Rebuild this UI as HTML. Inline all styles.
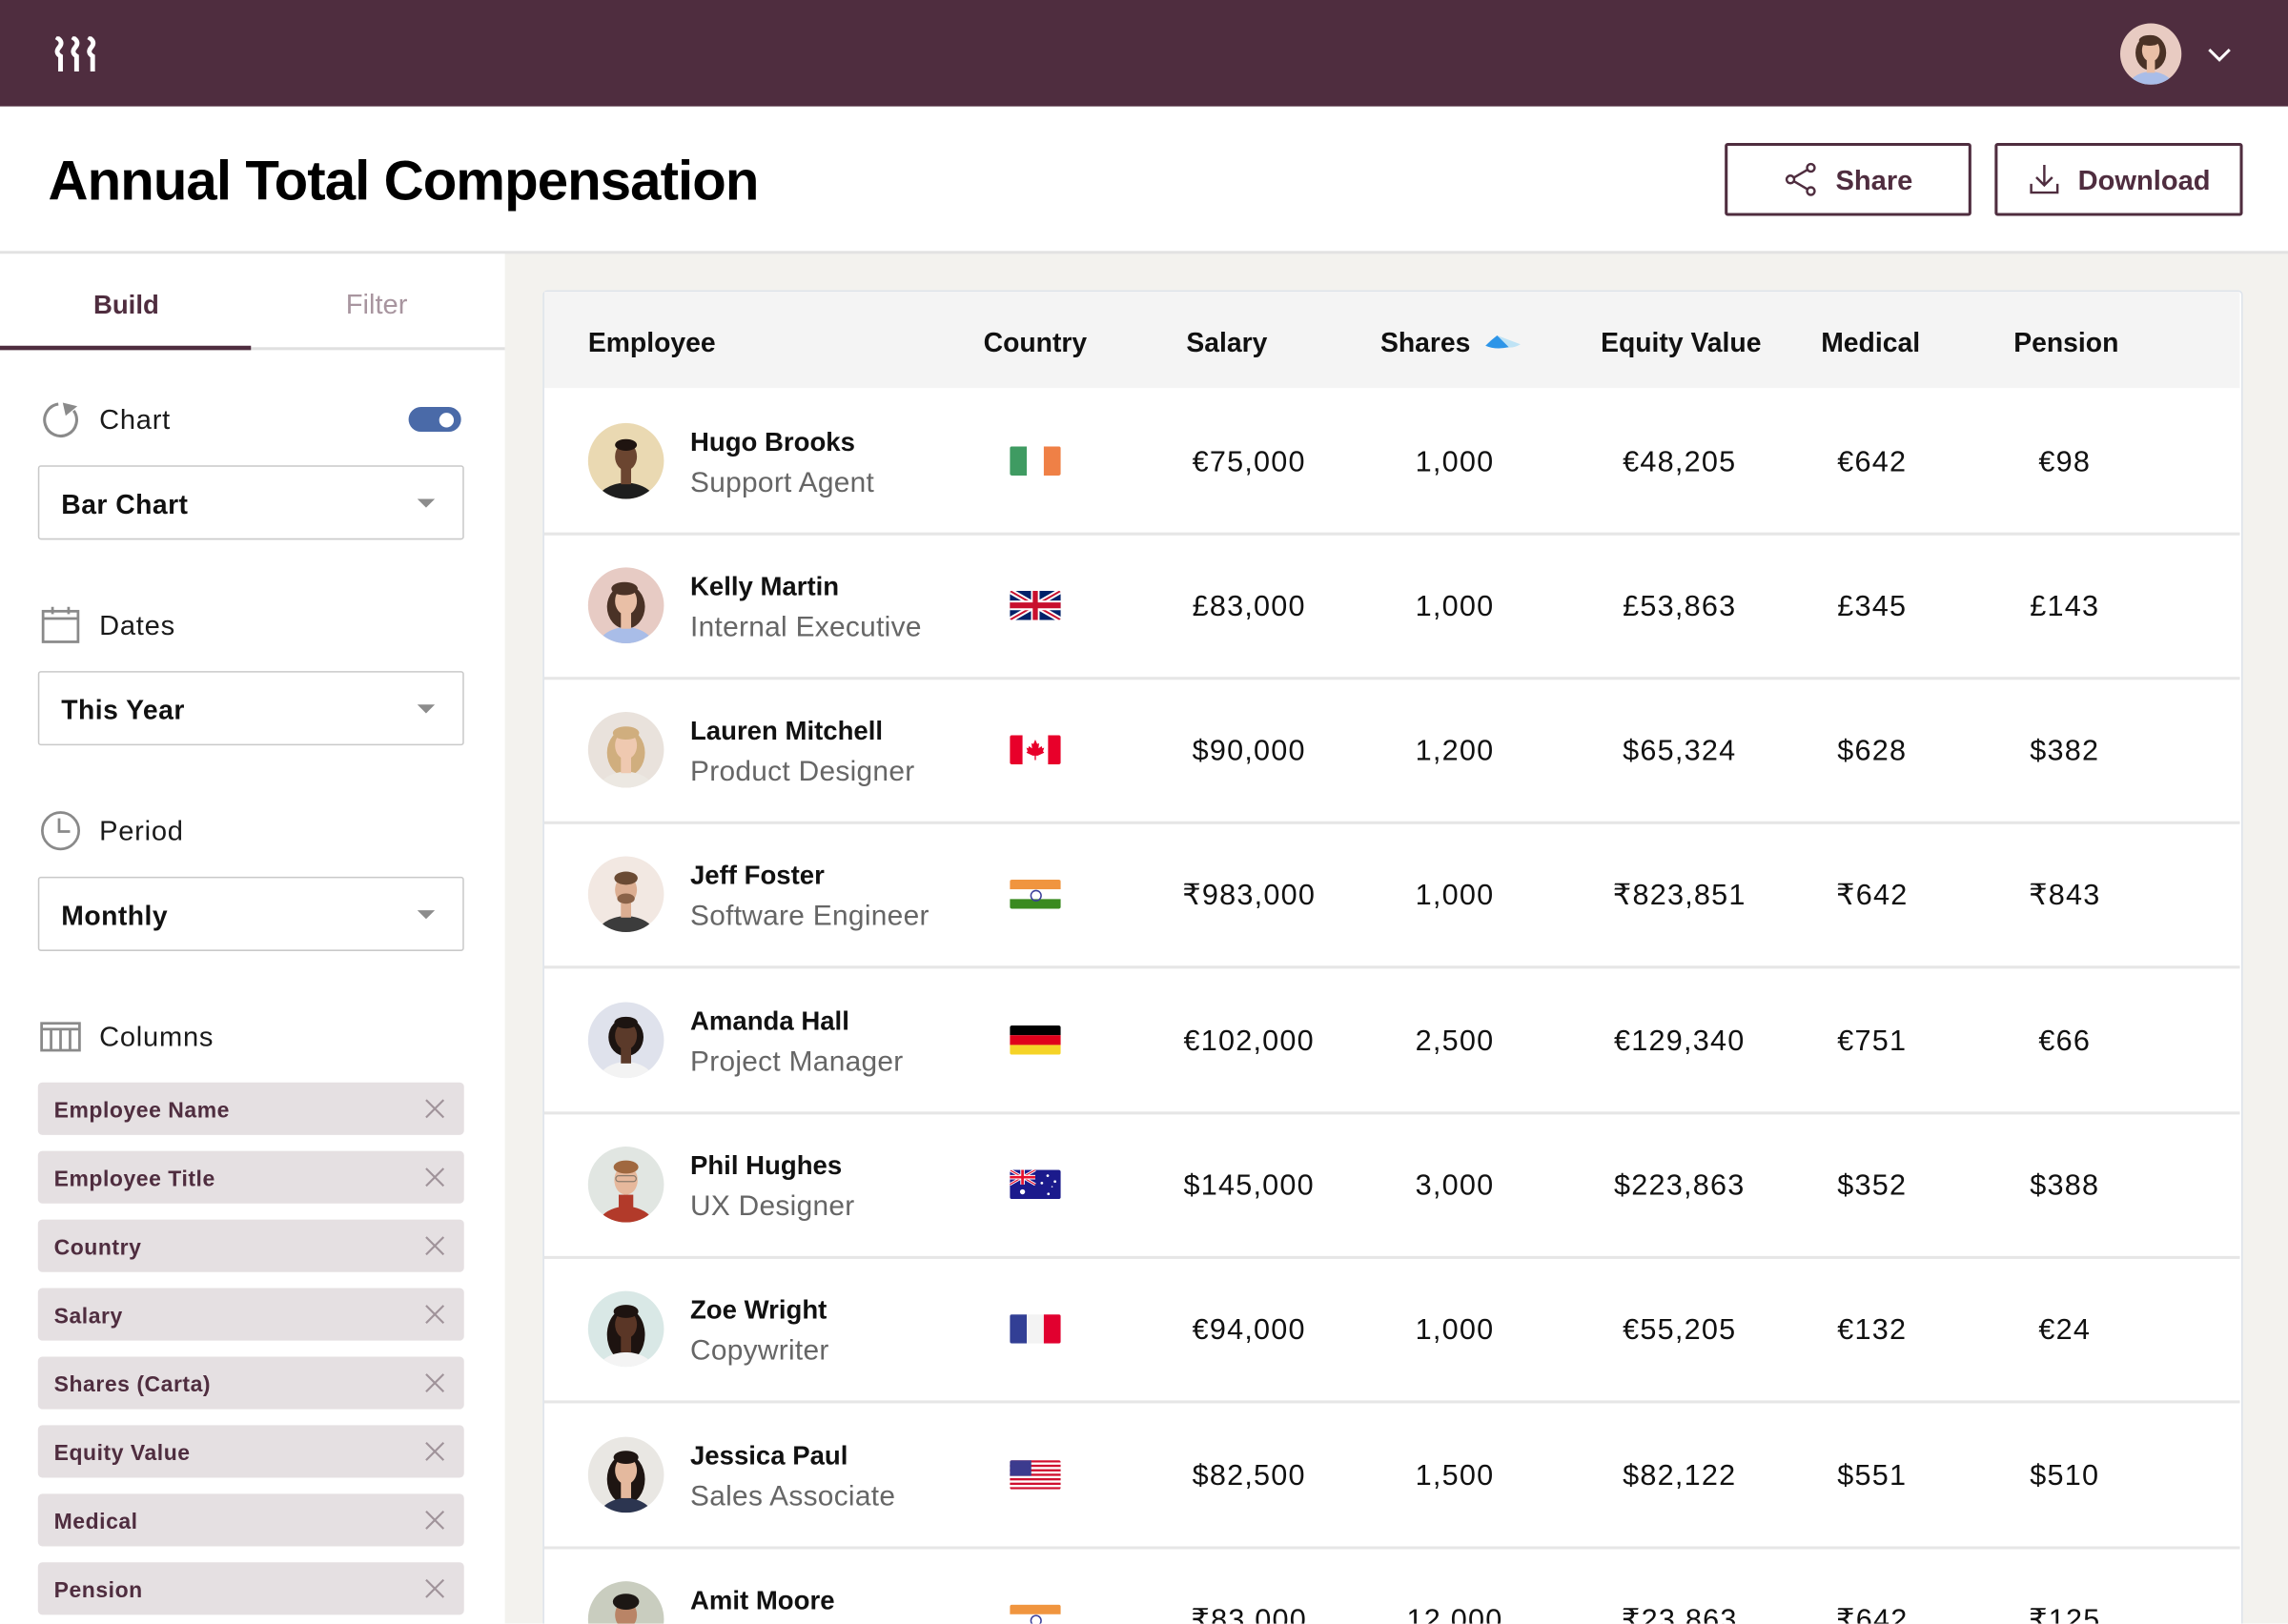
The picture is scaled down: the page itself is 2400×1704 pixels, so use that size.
<!DOCTYPE html>
<html><head><meta charset="utf-8">
<style>
html,body{margin:0;padding:0;width:2400px;height:1704px;overflow:hidden;background:#fff;}
#r{position:absolute;left:0;top:0;width:1568px;height:1113px;transform:scale(1.5306122);transform-origin:0 0;font-family:"Liberation Sans","DejaVu Sans",sans-serif;color:#111;overflow:hidden;background:#f3f2ee;}
.a{position:absolute;white-space:nowrap;}
.lbl{font-size:19px;line-height:24px;color:#1a1a1a;letter-spacing:0.5px;margin-top:2px;}
.dd{position:absolute;left:26px;width:290px;height:49px;border:1.5px solid #c9c9c9;border-radius:2px;background:#fff;}
.dd span{position:absolute;left:15px;top:14px;font-size:18.5px;line-height:24px;font-weight:bold;letter-spacing:0.3px;color:#111;}
.dd i{position:absolute;left:259px;top:22px;width:0;height:0;border-left:6.5px solid transparent;border-right:6.5px solid transparent;border-top:6px solid #8c8c8c;}
.chip{position:absolute;left:26px;width:292px;height:36px;background:#e5e0e2;border-radius:3px;}
.chip span{position:absolute;left:11px;top:11px;font-size:15px;line-height:18px;font-weight:bold;color:#4f2d3f;letter-spacing:0.35px;}
.chip svg{position:absolute;left:265px;top:11px;}
.hd{font-size:18.5px;line-height:24px;font-weight:bold;top:223px;color:#111;}
.nm{font-size:18px;line-height:22px;font-weight:bold;color:#111;left:473px;margin-top:1px;}
.tt{font-size:19.5px;line-height:24px;color:#666;left:473px;letter-spacing:0.2px;margin-top:1px;}
.v{font-size:20px;line-height:24px;width:200px;text-align:center;color:#111;letter-spacing:0.8px;margin-top:1px;}
.av{position:absolute;left:403px;width:52px;height:52px;border-radius:50%;overflow:hidden;}
.av svg{display:block;}
.fl{position:absolute;left:692px;width:35px;height:20px;border-radius:1.5px;overflow:hidden;}
.fl svg{display:block;}
.sep{position:absolute;left:373px;width:1162px;height:2px;background:#e6e6e6;}
</style></head>
<body>
<div id="r">
  <!-- top bar -->
  <div class="a" style="left:0;top:0;width:1568px;height:73px;background:#4f2d3f;"></div>
  <svg class="a" style="left:36px;top:25px;" width="33" height="24" viewBox="0 0 33 24">
    <g fill="none" stroke="#fff" stroke-width="3.2" stroke-linecap="butt">
      <path d="M2.5,0.5 Q8,3.5 4.5,7.5 Q1.5,11 5.5,13.5 L5.5,24"/>
      <path d="M13.5,0.5 Q19,3.5 15.5,7.5 Q12.5,11 16.5,13.5 L16.5,24"/>
      <path d="M24.5,0.5 Q30,3.5 26.5,7.5 Q23.5,11 27.5,13.5 L27.5,24"/>
    </g>
  </svg>
  <div class="a" style="left:1453px;top:16px;width:42px;height:42px;border-radius:50%;overflow:hidden;background:#e8cbc2;">
    <svg width="42" height="42" viewBox="0 0 52 52"><ellipse cx="26" cy="25" rx="13" ry="15" fill="#4a3226"/><ellipse cx="26" cy="56" rx="20" ry="15" fill="#a9bde8"/><rect x="22.5" y="30" width="7" height="12" fill="#e9bfa6"/><ellipse cx="26" cy="23" rx="7.5" ry="9.5" fill="#e9bfa6"/><ellipse cx="25" cy="14.5" rx="9" ry="4.5" fill="#4a3226"/></svg>
  </div>
  <svg class="a" style="left:1512px;top:31px;" width="18" height="12" viewBox="0 0 18 12"><polyline points="2,3 9,10 16,3" fill="none" stroke="#fff" stroke-width="2"/></svg>

  <!-- header -->
  <div class="a" style="left:0;top:73px;width:1568px;height:100px;background:#fff;"></div>
  <div class="a" style="left:33px;top:103px;font-size:38px;line-height:44px;font-weight:bold;letter-spacing:-0.6px;color:#000;">Annual Total Compensation</div>
  <div class="a" style="left:1182px;top:98px;width:165px;height:46px;border:2px solid #4f2d3f;border-radius:2px;background:#fff;"></div>
  <svg class="a" style="left:1222px;top:111px;" width="24" height="24" viewBox="0 0 24 24"><g fill="none" stroke="#4f2d3f" stroke-width="1.6"><circle cx="19" cy="4" r="2.6"/><circle cx="5" cy="12" r="2.6"/><circle cx="19" cy="20" r="2.6"/><line x1="7.3" y1="10.8" x2="16.7" y2="5.3"/><line x1="7.3" y1="13.2" x2="16.7" y2="18.7"/></g></svg>
  <div class="a" style="left:1258px;top:112.5px;font-size:19px;line-height:24px;font-weight:bold;color:#4f2d3f;">Share</div>
  <div class="a" style="left:1367px;top:98px;width:166px;height:46px;border:2px solid #4f2d3f;border-radius:2px;background:#fff;"></div>
  <svg class="a" style="left:1389px;top:111px;" width="24" height="24" viewBox="0 0 24 24"><g fill="none" stroke="#4f2d3f" stroke-width="1.6"><line x1="12" y1="2" x2="12" y2="16"/><polyline points="6.5,10.5 12,16 17.5,10.5"/><polyline points="3,15 3,21 21,21 21,15"/></g></svg>
  <div class="a" style="left:1424px;top:112.5px;font-size:19px;line-height:24px;font-weight:bold;color:#4f2d3f;">Download</div>
  <div class="a" style="left:0;top:172px;width:1568px;height:2px;background:#e2e2e2;"></div>

  <!-- sidebar -->
  <div class="a" style="left:0;top:174px;width:346px;height:939px;background:#fff;"></div>
  <div class="a" style="left:64px;top:197px;font-size:18px;line-height:24px;font-weight:bold;color:#4f2d3f;">Build</div>
  <div class="a" style="left:237px;top:198px;font-size:19px;line-height:24px;color:#a8959f;">Filter</div>
  <div class="a" style="left:0;top:238px;width:346px;height:1.5px;background:#e0e0e0;"></div>
  <div class="a" style="left:0;top:237px;width:172px;height:3px;background:#4f2d3f;"></div>

  <svg class="a" style="left:29px;top:274px;" width="27" height="27" viewBox="0 0 27 27"><path d="M21.5,7.5 A11,11 0 1 1 11,3" fill="none" stroke="#8a8a8a" stroke-width="2"/><path d="M14,2 L24,4.5 L16,11 Z" fill="#8a8a8a"/></svg>
  <div class="a lbl" style="left:68px;top:275px;">Chart</div>
  <div class="a" style="left:280px;top:279px;width:36px;height:17px;border-radius:9px;background:#4a6aa8;"></div>
  <div class="a" style="left:301px;top:282.5px;width:10px;height:10px;border-radius:50%;background:#fff;"></div>
  <div class="dd" style="top:319px;"><span>Bar Chart</span><i></i></div>

  <svg class="a" style="left:28px;top:415px;" width="28" height="27" viewBox="0 0 28 27"><g fill="none" stroke="#8a8a8a" stroke-width="1.8"><rect x="1.5" y="4" width="24" height="21"/><line x1="1.5" y1="9" x2="25.5" y2="9"/><line x1="8" y1="1" x2="8" y2="6"/><line x1="19" y1="1" x2="19" y2="6"/></g></svg>
  <div class="a lbl" style="left:68px;top:416px;">Dates</div>
  <div class="dd" style="top:460px;"><span>This Year</span><i></i></div>

  <svg class="a" style="left:27px;top:555px;" width="29" height="29" viewBox="0 0 29 29"><g fill="none" stroke="#8a8a8a" stroke-width="1.8"><circle cx="14.5" cy="14.5" r="12.5"/><polyline points="13.5,6 13.5,15 21,15"/></g></svg>
  <div class="a lbl" style="left:68px;top:557px;">Period</div>
  <div class="dd" style="top:601px;"><span>Monthly</span><i></i></div>

  <svg class="a" style="left:27px;top:700px;" width="30" height="22" viewBox="0 0 30 22"><g fill="none" stroke="#8a8a8a" stroke-width="1.8"><rect x="1.5" y="1.5" width="26" height="18.5"/><line x1="1.5" y1="5.5" x2="27.5" y2="5.5"/><line x1="8" y1="5.5" x2="8" y2="20"/><line x1="14.5" y1="5.5" x2="14.5" y2="20"/><line x1="21" y1="5.5" x2="21" y2="20"/></g></svg>
  <div class="a lbl" style="left:68px;top:698px;">Columns</div>

  <div class="chip" style="top:742px;"><span>Employee Name</span><svg width="14" height="14" viewBox="0 0 14 14"><path d="M1,1 L13,13 M13,1 L1,13" stroke="#a0939a" stroke-width="1.4"/></svg></div>
  <div class="chip" style="top:789px;"><span>Employee Title</span><svg width="14" height="14" viewBox="0 0 14 14"><path d="M1,1 L13,13 M13,1 L1,13" stroke="#a0939a" stroke-width="1.4"/></svg></div>
  <div class="chip" style="top:836px;"><span>Country</span><svg width="14" height="14" viewBox="0 0 14 14"><path d="M1,1 L13,13 M13,1 L1,13" stroke="#a0939a" stroke-width="1.4"/></svg></div>
  <div class="chip" style="top:883px;"><span>Salary</span><svg width="14" height="14" viewBox="0 0 14 14"><path d="M1,1 L13,13 M13,1 L1,13" stroke="#a0939a" stroke-width="1.4"/></svg></div>
  <div class="chip" style="top:930px;"><span>Shares (Carta)</span><svg width="14" height="14" viewBox="0 0 14 14"><path d="M1,1 L13,13 M13,1 L1,13" stroke="#a0939a" stroke-width="1.4"/></svg></div>
  <div class="chip" style="top:977px;"><span>Equity Value</span><svg width="14" height="14" viewBox="0 0 14 14"><path d="M1,1 L13,13 M13,1 L1,13" stroke="#a0939a" stroke-width="1.4"/></svg></div>
  <div class="chip" style="top:1024px;"><span>Medical</span><svg width="14" height="14" viewBox="0 0 14 14"><path d="M1,1 L13,13 M13,1 L1,13" stroke="#a0939a" stroke-width="1.4"/></svg></div>
  <div class="chip" style="top:1071px;"><span>Pension</span><svg width="14" height="14" viewBox="0 0 14 14"><path d="M1,1 L13,13 M13,1 L1,13" stroke="#a0939a" stroke-width="1.4"/></svg></div>

  <!-- table card -->
  <div class="a" style="left:372px;top:199px;width:1163px;height:960px;border:1px solid #dde3ea;border-radius:3px;background:#fff;"></div>
  <div class="a" style="left:373px;top:200px;width:1162px;height:66px;background:#f4f4f4;"></div>
  <div class="a hd" style="left:403px;">Employee</div>
  <div class="a hd" style="left:674px;">Country</div>
  <div class="a hd" style="left:813px;">Salary</div>
  <div class="a hd" style="left:946px;">Shares</div>
  <svg class="a" style="left:1017px;top:229px;" width="27" height="11" viewBox="0 0 27 11"><path d="M9,1 L25,7 Q20,10 15,9 Z" fill="#bfe3f5"/><path d="M9,1 Q5,4 1,8 Q8,11 17,9 Z" fill="#2d95e8"/></svg>
  <div class="a hd" style="left:1097px;">Equity Value</div>
  <div class="a hd" style="left:1248px;">Medical</div>
  <div class="a hd" style="left:1380px;">Pension</div>

  <!-- separators -->
  <div class="sep" style="top:364.5px;"></div>
  <div class="sep" style="top:463.8px;"></div>
  <div class="sep" style="top:563.1px;"></div>
  <div class="sep" style="top:662.4px;"></div>
  <div class="sep" style="top:761.7px;"></div>
  <div class="sep" style="top:861px;"></div>
  <div class="sep" style="top:960.3px;"></div>
  <div class="sep" style="top:1059.6px;"></div>

  <!-- Row 1 -->
  <div class="av" style="top:290px;background:#ead9b2;"><svg width="52" height="52" viewBox="0 0 52 52"><ellipse cx="26" cy="56" rx="21" ry="15" fill="#1e1e1e"/><rect x="22.5" y="30" width="7" height="12" fill="#6b4530"/><ellipse cx="26" cy="23" rx="7.5" ry="9.5" fill="#6b4530"/><ellipse cx="26" cy="15" rx="7.5" ry="4" fill="#1f1410"/></svg></div>
  <div class="a nm" style="top:291px;">Hugo Brooks</div>
  <div class="a tt" style="top:318px;">Support Agent</div>
  <div class="fl" style="top:306px;"><svg width="35" height="20" viewBox="0 0 3 2" preserveAspectRatio="none"><rect width="1" height="2" fill="#3f9b62"/><rect x="1" width="1" height="2" fill="#fff"/><rect x="2" width="1" height="2" fill="#ef8046"/></svg></div>
  <div class="a v" style="left:756px;top:304px;">€75,000</div>
  <div class="a v" style="left:897px;top:304px;">1,000</div>
  <div class="a v" style="left:1051px;top:304px;">€48,205</div>
  <div class="a v" style="left:1183px;top:304px;">€642</div>
  <div class="a v" style="left:1315px;top:304px;">€98</div>

  <!-- Row 2 -->
  <div class="av" style="top:389px;background:#e7cbc4;"><svg width="52" height="52" viewBox="0 0 52 52"><ellipse cx="26" cy="27" rx="13" ry="15" fill="#4a3226"/><ellipse cx="26" cy="56" rx="20" ry="15" fill="#a9bde8"/><rect x="22.5" y="30" width="7" height="12" fill="#e9bfa6"/><ellipse cx="26" cy="23" rx="7.5" ry="9.5" fill="#e9bfa6"/><ellipse cx="25" cy="14.5" rx="9" ry="4.5" fill="#4a3226"/></svg></div>
  <div class="a nm" style="top:390px;">Kelly Martin</div>
  <div class="a tt" style="top:417px;">Internal Executive</div>
  <div class="fl" style="top:405px;"><svg width="35" height="20" viewBox="0 0 60 30" preserveAspectRatio="none"><rect width="60" height="30" fill="#012169"/><path d="M0,0 L60,30 M60,0 L0,30" stroke="#fff" stroke-width="6"/><path d="M0,0 L60,30 M60,0 L0,30" stroke="#C8102E" stroke-width="2"/><path d="M30,0 v30 M0,15 h60" stroke="#fff" stroke-width="10"/><path d="M30,0 v30 M0,15 h60" stroke="#C8102E" stroke-width="6"/></svg></div>
  <div class="a v" style="left:756px;top:403px;">£83,000</div>
  <div class="a v" style="left:897px;top:403px;">1,000</div>
  <div class="a v" style="left:1051px;top:403px;">£53,863</div>
  <div class="a v" style="left:1183px;top:403px;">£345</div>
  <div class="a v" style="left:1315px;top:403px;">£143</div>

  <!-- Row 3 -->
  <div class="av" style="top:488px;background:#e9e2dc;"><svg width="52" height="52" viewBox="0 0 52 52"><ellipse cx="26" cy="28" rx="13" ry="16" fill="#d0ae7e"/><ellipse cx="26" cy="56" rx="20" ry="15" fill="#ece8e2"/><rect x="22.5" y="30" width="7" height="12" fill="#efc9b0"/><ellipse cx="26" cy="23" rx="7.5" ry="9.5" fill="#efc9b0"/><ellipse cx="26" cy="14.5" rx="9" ry="4.5" fill="#d0ae7e"/></svg></div>
  <div class="a nm" style="top:489px;">Lauren Mitchell</div>
  <div class="a tt" style="top:516px;">Product Designer</div>
  <div class="fl" style="top:504px;"><svg width="35" height="20" viewBox="0 0 40 20" preserveAspectRatio="none"><rect width="40" height="20" fill="#fff"/><rect width="10" height="20" fill="#e8002a"/><rect x="30" width="10" height="20" fill="#e8002a"/><path d="M20,3 L21.5,6 L23,5.5 L22.5,9 L25,7.5 L25.5,9 L27,8.5 L26,11 L27,12 L22,14 L20.5,14 L20.5,17 L19.5,17 L19.5,14 L18,14 L13,12 L14,11 L13,8.5 L14.5,9 L15,7.5 L17.5,9 L17,5.5 L18.5,6 Z" fill="#e8002a"/></svg></div>
  <div class="a v" style="left:756px;top:502px;">$90,000</div>
  <div class="a v" style="left:897px;top:502px;">1,200</div>
  <div class="a v" style="left:1051px;top:502px;">$65,324</div>
  <div class="a v" style="left:1183px;top:502px;">$628</div>
  <div class="a v" style="left:1315px;top:502px;">$382</div>

  <!-- Row 4 -->
  <div class="av" style="top:587px;background:#f2e8e2;"><svg width="52" height="52" viewBox="0 0 52 52"><ellipse cx="26" cy="56" rx="21" ry="15" fill="#3c3c3c"/><rect x="22.5" y="30" width="7" height="12" fill="#dcae92"/><ellipse cx="26" cy="23" rx="7.5" ry="9.5" fill="#dcae92"/><ellipse cx="26" cy="15" rx="8" ry="4.5" fill="#6a4a33"/><ellipse cx="26" cy="29" rx="6" ry="3.5" fill="#8a6248"/></svg></div>
  <div class="a nm" style="top:588px;">Jeff Foster</div>
  <div class="a tt" style="top:615px;">Software Engineer</div>
  <div class="fl" style="top:603px;"><svg width="35" height="20" viewBox="0 0 3 3" preserveAspectRatio="none"><rect width="3" height="1" fill="#f0953f"/><rect y="1" width="3" height="1" fill="#fff"/><rect y="2" width="3" height="1" fill="#3a8a1f"/></svg></div>
  <div class="a" style="left:706px;top:610px;width:6px;height:6px;border:0.8px solid #3b3f9a;border-radius:50%;"></div>
  <div class="a v" style="left:756px;top:601px;">₹983,000</div>
  <div class="a v" style="left:897px;top:601px;">1,000</div>
  <div class="a v" style="left:1051px;top:601px;">₹823,851</div>
  <div class="a v" style="left:1183px;top:601px;">₹642</div>
  <div class="a v" style="left:1315px;top:601px;">₹843</div>

  <!-- Row 5 -->
  <div class="av" style="top:687px;background:#dfe2ec;"><svg width="52" height="52" viewBox="0 0 52 52"><ellipse cx="26" cy="24" rx="12" ry="13" fill="#1c1411"/><ellipse cx="26" cy="56" rx="20" ry="15" fill="#f3f3f3"/><rect x="22.5" y="30" width="7" height="12" fill="#5b3a2a"/><ellipse cx="26" cy="23" rx="7.5" ry="9.5" fill="#5b3a2a"/><ellipse cx="26" cy="14" rx="8" ry="4" fill="#1c1411"/></svg></div>
  <div class="a nm" style="top:688px;">Amanda Hall</div>
  <div class="a tt" style="top:715px;">Project Manager</div>
  <div class="fl" style="top:703px;"><svg width="35" height="20" viewBox="0 0 3 3" preserveAspectRatio="none"><rect width="3" height="1" fill="#000"/><rect y="1" width="3" height="1" fill="#e0001b"/><rect y="2" width="3" height="1" fill="#f5d327"/></svg></div>
  <div class="a v" style="left:756px;top:701px;">€102,000</div>
  <div class="a v" style="left:897px;top:701px;">2,500</div>
  <div class="a v" style="left:1051px;top:701px;">€129,340</div>
  <div class="a v" style="left:1183px;top:701px;">€751</div>
  <div class="a v" style="left:1315px;top:701px;">€66</div>

  <!-- Row 6 -->
  <div class="av" style="top:786px;background:#e1e6e2;"><svg width="52" height="52" viewBox="0 0 52 52"><ellipse cx="26" cy="56" rx="20" ry="15" fill="#b23a2a"/><rect x="21" y="33" width="10" height="10" fill="#b23a2a"/><ellipse cx="26" cy="23" rx="8" ry="10" fill="#e6b89c"/><ellipse cx="26" cy="14" rx="8.5" ry="4.5" fill="#a0683f"/><rect x="19" y="20" width="14" height="4" rx="2" fill="none" stroke="#8a7a6a" stroke-width="0.8"/></svg></div>
  <div class="a nm" style="top:787px;">Phil Hughes</div>
  <div class="a tt" style="top:814px;">UX Designer</div>
  <div class="fl" style="top:802px;"><svg width="35" height="20" viewBox="0 0 70 40" preserveAspectRatio="none"><rect width="70" height="40" fill="#1b1a8c"/><g><path d="M0,0 L35,20 M35,0 L0,20" stroke="#fff" stroke-width="4"/><path d="M0,0 L35,20 M35,0 L0,20" stroke="#e8102e" stroke-width="1.5"/><path d="M17.5,0 v20 M0,10 h35" stroke="#fff" stroke-width="6"/><path d="M17.5,0 v20 M0,10 h35" stroke="#e8102e" stroke-width="3.5"/></g><circle cx="17.5" cy="30" r="3.5" fill="#fff"/><circle cx="52" cy="8" r="1.8" fill="#fff"/><circle cx="44" cy="18" r="1.8" fill="#fff"/><circle cx="62" cy="16" r="1.8" fill="#fff"/><circle cx="53" cy="33" r="1.8" fill="#fff"/><circle cx="58" cy="23" r="1" fill="#fff"/></svg></div>
  <div class="a v" style="left:756px;top:800px;">$145,000</div>
  <div class="a v" style="left:897px;top:800px;">3,000</div>
  <div class="a v" style="left:1051px;top:800px;">$223,863</div>
  <div class="a v" style="left:1183px;top:800px;">$352</div>
  <div class="a v" style="left:1315px;top:800px;">$388</div>

  <!-- Row 7 -->
  <div class="av" style="top:885px;background:#d9e8e6;"><svg width="52" height="52" viewBox="0 0 52 52"><ellipse cx="26" cy="30" rx="13" ry="18" fill="#1d1310"/><ellipse cx="26" cy="56" rx="20" ry="14" fill="#f4f4f4"/><rect x="22.5" y="30" width="7" height="12" fill="#5a3626"/><ellipse cx="26" cy="23" rx="7.5" ry="9.5" fill="#5a3626"/><ellipse cx="26" cy="14" rx="8.5" ry="4.5" fill="#1d1310"/></svg></div>
  <div class="a nm" style="top:886px;">Zoe Wright</div>
  <div class="a tt" style="top:913px;">Copywriter</div>
  <div class="fl" style="top:901px;"><svg width="35" height="20" viewBox="0 0 3 2" preserveAspectRatio="none"><rect width="1" height="2" fill="#323f95"/><rect x="1" width="1" height="2" fill="#f3f3f3"/><rect x="2" width="1" height="2" fill="#e1002f"/></svg></div>
  <div class="a v" style="left:756px;top:899px;">€94,000</div>
  <div class="a v" style="left:897px;top:899px;">1,000</div>
  <div class="a v" style="left:1051px;top:899px;">€55,205</div>
  <div class="a v" style="left:1183px;top:899px;">€132</div>
  <div class="a v" style="left:1315px;top:899px;">€24</div>

  <!-- Row 8 -->
  <div class="av" style="top:985px;background:#e9e7e3;"><svg width="52" height="52" viewBox="0 0 52 52"><ellipse cx="26" cy="29" rx="13" ry="17" fill="#1e1512"/><ellipse cx="26" cy="56" rx="19" ry="14" fill="#2c3550"/><rect x="22.5" y="30" width="7" height="12" fill="#e4b99e"/><ellipse cx="26" cy="23" rx="7.5" ry="9.5" fill="#e4b99e"/><ellipse cx="26" cy="14" rx="8.5" ry="4.5" fill="#1e1512"/></svg></div>
  <div class="a nm" style="top:986px;">Jessica Paul</div>
  <div class="a tt" style="top:1013px;">Sales Associate</div>
  <div class="fl" style="top:1001px;"><svg width="35" height="20" viewBox="0 0 38 26" preserveAspectRatio="none"><rect width="38" height="26" fill="#fff"/><g fill="#d0102f"><rect y="0" width="38" height="2"/><rect y="4" width="38" height="2"/><rect y="8" width="38" height="2"/><rect y="12" width="38" height="2"/><rect y="16" width="38" height="2"/><rect y="20" width="38" height="2"/><rect y="24" width="38" height="2"/></g><rect width="16" height="14" fill="#3c3b8e"/></svg></div>
  <div class="a v" style="left:756px;top:999px;">$82,500</div>
  <div class="a v" style="left:897px;top:999px;">1,500</div>
  <div class="a v" style="left:1051px;top:999px;">$82,122</div>
  <div class="a v" style="left:1183px;top:999px;">$551</div>
  <div class="a v" style="left:1315px;top:999px;">$510</div>

  <!-- Row 9 -->
  <div class="av" style="top:1084px;background:#c9cdbf;"><svg width="52" height="52" viewBox="0 0 52 52"><ellipse cx="26" cy="56" rx="20" ry="15" fill="#eaeaea"/><rect x="22.5" y="30" width="7" height="12" fill="#b98466"/><ellipse cx="26" cy="23" rx="7.5" ry="9.5" fill="#b98466"/><ellipse cx="26" cy="14" rx="9" ry="5.5" fill="#1c1714"/></svg></div>
  <div class="a nm" style="top:1085px;">Amit Moore</div>
  <div class="fl" style="top:1100px;"><svg width="35" height="20" viewBox="0 0 3 3" preserveAspectRatio="none"><rect width="3" height="1" fill="#f0953f"/><rect y="1" width="3" height="1" fill="#fff"/><rect y="2" width="3" height="1" fill="#3a8a1f"/></svg></div>
  <div class="a" style="left:706px;top:1107px;width:6px;height:6px;border:0.8px solid #3b3f9a;border-radius:50%;"></div>
  <div class="a v" style="left:756px;top:1098px;">₹83,000</div>
  <div class="a v" style="left:897px;top:1098px;">12,000</div>
  <div class="a v" style="left:1051px;top:1098px;">₹23,863</div>
  <div class="a v" style="left:1183px;top:1098px;">₹642</div>
  <div class="a v" style="left:1315px;top:1098px;">₹125</div>
</div>
</body></html>
